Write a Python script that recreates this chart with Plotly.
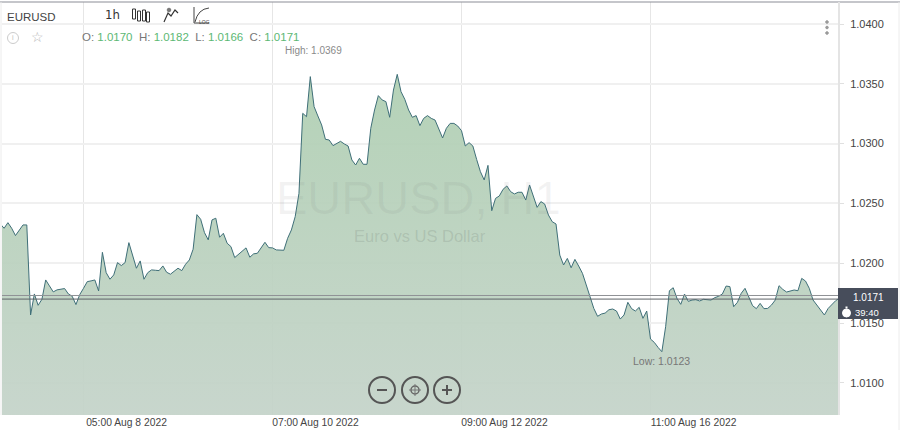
import plotly.graph_objects as go

# ---------- data ----------
prices = [
 1.02328,1.02292,1.02339,1.02292,1.02231,1.02273,1.02320,1.02320,1.01567,1.01743,
 1.01648,1.01698,1.01860,1.01810,1.01760,1.01777,1.01782,1.01788,1.01743,1.01724,
 1.01654,1.01737,1.01790,1.01846,1.01852,1.01860,1.01768,1.02091,1.01921,1.01866,
 1.01902,1.02005,1.01980,1.02005,1.02172,1.02061,1.01958,1.02019,1.01866,1.01921,
 1.01944,1.01941,1.01938,1.01977,1.01924,1.01908,1.01933,1.01958,1.01938,1.01991,
 1.02027,1.02117,1.02406,1.02367,1.02256,1.02195,1.02362,1.02376,1.02217,1.02250,
 1.02167,1.02139,1.02047,1.02075,1.02103,1.02128,1.02050,1.02078,1.02083,1.02130,
 1.02175,1.02130,1.02128,1.02111,1.02108,1.02108,1.02208,1.02278,1.02389,1.02584,
 1.03253,1.03225,1.03560,1.03309,1.03231,1.03156,1.03036,1.03030,1.02983,1.03002,
 1.03019,1.02997,1.02980,1.02863,1.02821,1.02877,1.02827,1.02827,1.03128,1.03281,
 1.03401,1.03365,1.03351,1.03220,1.03448,1.03579,1.03434,1.03370,1.03281,1.03220,
 1.03234,1.03150,1.03211,1.03234,1.03211,1.03197,1.03119,1.03047,1.03128,1.03169,
 1.03169,1.03147,1.03108,1.02980,1.03008,1.02980,1.02868,1.02765,1.02696,1.02818,
 1.02439,1.02542,1.02562,1.02618,1.02646,1.02598,1.02579,1.02593,1.02593,1.02528,
 1.02654,1.02556,1.02467,1.02515,1.02495,1.02403,1.02347,1.02328,1.02068,1.01985,
 1.02040,1.01962,1.02032,1.01976,1.01915,1.01818,1.01720,1.01622,1.01556,1.01575,
 1.01583,1.01611,1.01617,1.01600,1.01533,1.01567,1.01673,1.01620,1.01600,1.01631,
 1.01539,1.01600,1.01366,1.01338,1.01296,1.01260,1.01469,1.01770,1.01795,1.01706,
 1.01656,1.01742,1.01681,1.01692,1.01695,1.01684,1.01698,1.01692,1.01692,1.01712,
 1.01723,1.01742,1.01809,1.01804,1.01636,1.01673,1.01748,1.01790,1.01714,1.01645,
 1.01620,1.01664,1.01620,1.01622,1.01650,1.01692,1.01812,1.01781,1.01759,1.01770,
 1.01776,1.01770,1.01873,1.01851,1.01790,1.01692,1.01648,1.01609,1.01567,1.01622,
 1.01659,1.01687,1.01709,
]
bar_index = list(range(len(prices)))
x_tick_index = [22, 72, 122, 172]
x_tick_labels = ["05:00 Aug 8 2022", "07:00 Aug 10 2022", "09:00 Aug 12 2022", "11:00 Aug 16 2022"]
y_ticks = [1.04, 1.035, 1.03, 1.025, 1.02, 1.015, 1.01]
y_tick_labels = ["1.0400", "1.0350", "1.0300", "1.0250", "1.0200", "1.0150", "1.0100"]
ask_level = 1.0173
bid_level = 1.0170
ohlc = [("O:", "1.0170"), ("H:", "1.0182"), ("L:", "1.0166"), ("C:", "1.0171")]

# ---------- layout helpers (pixels of the 900x430 page) ----------
W, H = 900, 430
L, R, T, B = 2, 838, 2, 415
def px(x): return x / W
def py(y): return 1 - y / H
def P(pts, close=False):
    s = "M" + " L".join(f"{px(a):.5f},{py(b):.5f}" for a, b in pts)
    return s + (" Z" if close else "")

def pshape(path, color="#444", width=1, fill=None):
    d = dict(type="path", xref="paper", yref="paper", path=path,
             line=dict(color=color, width=width), layer="above")
    if fill: d["fillcolor"] = fill
    return d

def circle(cx, cy, r, color="#555", width=2, fill=None):
    d = dict(type="circle", xref="paper", yref="paper", x0=px(cx-r), x1=px(cx+r),
             y0=py(cy+r), y1=py(cy-r), line=dict(color=color, width=width), layer="above")
    if fill: d["fillcolor"] = fill
    return d

def rect(x0, y0, x1, y1, fill, line=None, width=0):
    return dict(type="rect", xref="paper", yref="paper", x0=px(x0), x1=px(x1), y0=py(y1), y1=py(y0),
                fillcolor=fill, line=dict(color=line or fill, width=width), layer="above")

def txt(x, y, text, size=11, color="#555", anchor="left", family="Liberation Sans"):
    return dict(x=px(x), y=py(y), xref="paper", yref="paper", text=text, showarrow=False,
                xanchor=anchor, yanchor="middle", align="left",
                font=dict(size=size, color=color, family=family))

fig = go.Figure(go.Scatter(
    x=bar_index, y=prices, mode="lines",
    line=dict(color="#3f6f78", width=1),
    fill="tozeroy",
    fillgradient=dict(type="vertical", start=1.0358, stop=1.0073,
                      colorscale=[[0, "rgba(175,207,178,0.93)"], [1, "rgba(196,211,201,0.93)"]]),
    hoverinfo="skip", showlegend=False,
))

green = "#5cb874"
ohlc_text = "  ".join(f'<span style="color:#777">{k}</span> <span style="color:{green}">{v}</span>' for k, v in ohlc)

annotations = [
    txt(5, 17, "EURUSD", 11.5, "#444"),
    txt(80, 37, ohlc_text, 11.5),
    txt(313, 50.5, "High: 1.0369", 10, "#8a8a8a", "center"),
    txt(661, 361, "Low: 1.0123", 10.5, "#777", "center"),
    txt(418, 197, "EURUSD, H1", 47, "rgba(120,120,120,0.09)", "center"),
    txt(420, 236, "Euro vs US Dollar", 16.5, "rgba(90,100,95,0.18)", "center"),
    txt(103, 15, "1h", 13, "#333", "left", "DejaVu Sans Condensed"),
    txt(197, 22, "LOG", 5, "#444", "left"),
    txt(868, 297, "1.0171", 10, "#ffffff", "center"),
    txt(853, 312, "39:40", 9.5, "#ffffff", "left"),
    txt(13, 38, "i", 7, "#bbbbbb", "center"),
    txt(37, 37, "☆", 14, "#b5b5b5", "center", "DejaVu Sans"),
]

shapes = [
    # frame
    dict(type="line", xref="paper", yref="paper", x0=0, x1=1, y0=py(2), y1=py(2), line=dict(color="#8b8d96", width=1), layer="above"),
    dict(type="line", xref="paper", yref="paper", x0=px(839), x1=px(839), y0=py(415), y1=py(2), line=dict(color="#e4e4e4", width=2), layer="above"),
    dict(type="line", xref="paper", yref="paper", x0=px(899), x1=px(899), y0=0, y1=py(2), line=dict(color="#ececec", width=1), layer="above"),
    dict(type="line", xref="paper", yref="paper", x0=px(1), x1=px(1), y0=py(415), y1=py(2), line=dict(color="#ececec", width=1), layer="above"),
    # price lines
    dict(type="line", xref="paper", yref="y", x0=px(L), x1=px(R), y0=ask_level, y1=ask_level, line=dict(color="#8f9195", width=1), layer="above"),
    dict(type="line", xref="paper", yref="y", x0=px(L), x1=px(R), y0=bid_level, y1=bid_level, line=dict(color="#5e6266", width=1), layer="above"),
    # price box
    rect(838, 288, 898, 319, "#474d5b"),
    circle(846.5, 313, 4, "#ffffff", 1, "#ffffff"),
    rect(845.5, 306.5, 847.5, 308.5, "#ffffff"),
    # info icon
    circle(13, 38, 5.5, "#cccccc", 1),
    # zoom buttons
    circle(382, 390, 13), circle(415, 390, 13), circle(447, 390, 13),
    pshape(P([(377, 390), (387, 390)]), "#555", 2),
    circle(415, 390, 4, "#666", 1.5),
    pshape(P([(415, 384), (415, 396)]), "#777", 1),
    pshape(P([(409, 390), (421, 390)]), "#777", 1),
    pshape(P([(442, 390), (452, 390)]), "#555", 2),
    pshape(P([(447, 385), (447, 395)]), "#555", 2),
    # more-menu dots
    circle(827, 22, 1.3, "#9a9a9a", 1, "#9a9a9a"),
    circle(827, 27.5, 1.3, "#9a9a9a", 1, "#9a9a9a"),
    circle(827, 33, 1.3, "#9a9a9a", 1, "#9a9a9a"),
]
# candle icon
for cx, (a, b) in zip([134, 139, 144, 148], [(9, 19), (11, 21), (10, 21), (12, 22)]):
    shapes.append(dict(type="rect", xref="paper", yref="paper", x0=px(cx-1.5), x1=px(cx+1.5), y0=py(b), y1=py(a),
                       line=dict(color="#333", width=1), layer="above"))
# line icon
shapes.append(pshape(P([(164, 22), (168, 13), (171, 16), (175, 10), (178, 13)]), "#333", 1.2))
shapes.append(circle(169, 10, 1.8, "#777", 1, "#777"))
# log icon
shapes.append(pshape(P([(194, 7), (194, 23), (209, 23)]), "#444", 1))
shapes.append(pshape("M%.5f,%.5f Q%.5f,%.5f %.5f,%.5f" % (px(195), py(22), px(198), py(9), px(209), py(8)), "#444", 1))

fig.update_layout(
    width=W, height=H, autosize=False,
    margin=dict(l=0, r=0, t=0, b=0),
    paper_bgcolor="#ffffff", plot_bgcolor="#ffffff",
    font=dict(family="Liberation Sans", color="#444"),
    annotations=annotations, shapes=shapes, showlegend=False,
    xaxis=dict(
        domain=[px(L), px(R)], range=[0.44, 221.6], tickmode="array",
        tickvals=x_tick_index, ticktext=x_tick_labels, ticks="", showline=False,
        showgrid=True, gridcolor="#e6e6e6", gridwidth=1, zeroline=False,
        tickfont=dict(size=10.3, color="#444"), ticklabelshift=43, ticklen=0,
    ),
    yaxis=dict(
        domain=[py(B), py(T)], range=[1.04 - (B - 24) * 0.005 / 59.8, 1.04 - (T - 24) * 0.005 / 59.8],
        side="right", tickmode="array", tickvals=y_ticks, ticktext=y_tick_labels,
        ticks="outside", ticklen=5, tickcolor="#e0e0e0", showline=False, ticklabelstandoff=4,
        showgrid=True, gridcolor="#f0f0f0", gridwidth=2, zeroline=False,
        tickfont=dict(size=11, color="#444"),
    ),
)

fig.write_html("out.html", config=dict(displayModeBar=False),
               post_script="document.body.style.margin='0';document.body.style.overflow='hidden';")
